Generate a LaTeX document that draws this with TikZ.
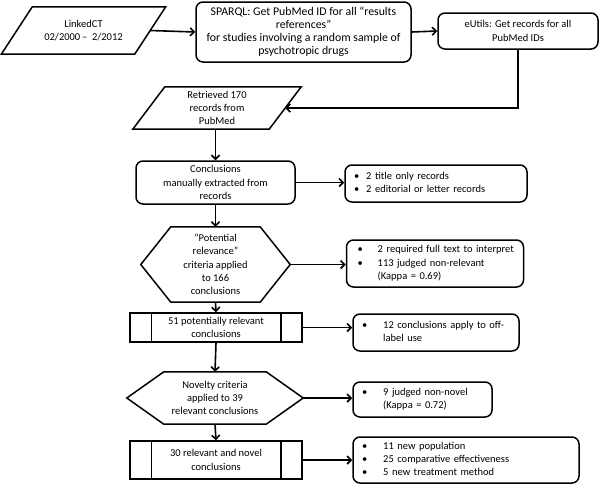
\documentclass[tikz,border=0pt]{standalone}
\usepackage{fontspec}
\setmainfont{Carlito}
\usetikzlibrary{arrows, arrows.meta, calc}

\newcommand{\blist}[2]{\begin{tabular}{@{}l@{\hspace{#1}}l@{}}#2\end{tabular}}

\tikzset{
    every node/.style={font=\fontsize{10.5}{13.3}\selectfont},
    flowbox/.style={draw, rounded corners=7pt, line width=1.5pt, align=center, inner sep=2pt},
    notebox/.style={draw, rounded corners=7pt, line width=1.5pt, align=left, inner xsep=9pt, inner ysep=2pt},
    plainbox/.style={align=center, inner sep=2pt},
    procbox/.style={draw, line width=1.5pt, align=center, inner sep=2pt, minimum width=172pt},
    outline/.style={line width=1.5pt},
    flowline/.style={-{Straight Barb[length=4pt, width=8pt]}, line width=1.6pt}
}

\begin{document}
\begin{tikzpicture}[x=1pt, y=-1pt]
    \useasboundingbox (0,0) rectangle (600,485);

    % top row
    \node[plainbox, minimum width=133pt, minimum height=47pt] (linked) at (83.5,30.5) {LinkedCT\\02/2000\,–\ \ 2/2012};
    \draw[outline] ([xshift=15.5pt]linked.north west) -- ([xshift=15.5pt]linked.north east)
        -- ([xshift=-15.5pt]linked.south east) -- ([xshift=-15.5pt]linked.south west) -- cycle;

    \node[flowbox, minimum width=215pt, minimum height=60pt, font=\fontsize{11.8}{13}\selectfont] (sparql) at (303.5,32)
        {SPARQL: Get PubMed ID for all “results\\references”\\for studies involving a random sample of\\psychotropic drugs};
    \node[flowbox, minimum width=160pt, minimum height=36pt] (eutils) at (518,31) {eUtils: Get records for all\\PubMed IDs};

    \draw[flowline] (linked.east) -- (sparql.west);
    \draw[flowline] (sparql.east) -- (eutils.west);

    % main column
    \node[plainbox, minimum width=136pt, minimum height=42pt] (retr) at (217,108) {Retrieved 170\\records from\\PubMed};
    \draw[outline] ([xshift=16pt]retr.north west) -- ([xshift=16pt]retr.north east)
        -- ([xshift=-16pt]retr.south east) -- ([xshift=-16pt]retr.south west) -- cycle;
    \draw[flowline] (eutils.south) |- (retr.east);

    \node[flowbox, minimum width=159pt, minimum height=43pt] (concl) at (215.5,182.5) {Conclusions\\manually extracted from\\records};

    \node[plainbox, minimum width=149pt, minimum height=75pt] (hexa) at (215.5,264.5)
        {“Potential\\relevance”\\criteria applied\\to 166\\conclusions};
    \draw[outline] (hexa.west) -- ([xshift=30pt]hexa.north west) -- ([xshift=-30pt]hexa.north east)
        -- (hexa.east) -- ([xshift=-30pt]hexa.south east) -- ([xshift=30pt]hexa.south west) -- cycle;

    \node[procbox, minimum height=29pt] (proca) at (216,327.5) {51 potentially relevant\\conclusions};
    \draw[outline] ([xshift=22pt]proca.north west) -- ([xshift=22pt]proca.south west);
    \draw[outline] ([xshift=-22pt]proca.north east) -- ([xshift=-22pt]proca.south east);

    \node[plainbox, minimum width=176pt, minimum height=52pt] (hexb) at (215,398)
        {Novelty criteria\\applied to 39\\relevant conclusions};
    \draw[outline] (hexb.west) -- ([xshift=37pt]hexb.north west) -- ([xshift=-37pt]hexb.north east)
        -- (hexb.east) -- ([xshift=-37pt]hexb.south east) -- ([xshift=37pt]hexb.south west) -- cycle;

    \node[procbox, minimum height=38pt] (procb) at (216,460) {30 relevant and novel\\conclusions};
    \draw[outline] ([xshift=22pt]procb.north west) -- ([xshift=22pt]procb.south west);
    \draw[outline] ([xshift=-22pt]procb.north east) -- ([xshift=-22pt]procb.south east);

    \draw[flowline] (retr.south -| concl.north) -- (concl.north);
    \draw[flowline] (concl.south) -- (hexa.north);
    \draw[flowline] (hexa.south) -- (proca.north);
    \draw[flowline] (proca.south) -- (hexb.north);
    \draw[flowline] (hexb.south) -- (procb.north);

    % side notes
    \node[notebox, text width=164pt, minimum height=37pt] (notea) at (436,183.5)
        {\blist{7pt}{\textbullet & 2 title only records\\ \textbullet & 2 editorial or letter records}};
    \node[notebox, text width=155pt, minimum height=47pt, inner xsep=11pt] (noteb) at (435,263.5)
        {\blist{15pt}{\textbullet & 2 required full text to interpret\\ \textbullet & 113 judged non-relevant\\ & (Kappa = 0.69)}};
    \node[notebox, text width=148pt, minimum height=37pt] (notec) at (436,332.5)
        {\blist{16pt}{\textbullet & 12 conclusions apply to off-\\ & label use}};
    \node[notebox, text width=121pt, minimum height=35pt] (noted) at (422.5,399.5)
        {\blist{16pt}{\textbullet & 9 judged non-novel\\ & (Kappa = 0.72)}};
    \node[notebox, text width=208pt, minimum height=46pt] (notee) at (466,460)
        {\blist{16pt}{\textbullet & 11 new population\\ \textbullet & 25 comparative effectiveness\\ \textbullet & 5 new treatment method}};

    \draw[flowline] (concl.east) -- (notea.west |- concl.east);
    \draw[flowline] (hexa.east) -- (noteb.west |- hexa.east);
    \draw[flowline] (proca.east) -- (notec.west |- proca.east);
    \draw[flowline] (hexb.east) -- (noted.west |- hexb.east);
    \draw[flowline] (procb.east) -- (notee.west |- procb.east);
\end{tikzpicture}
\end{document}
